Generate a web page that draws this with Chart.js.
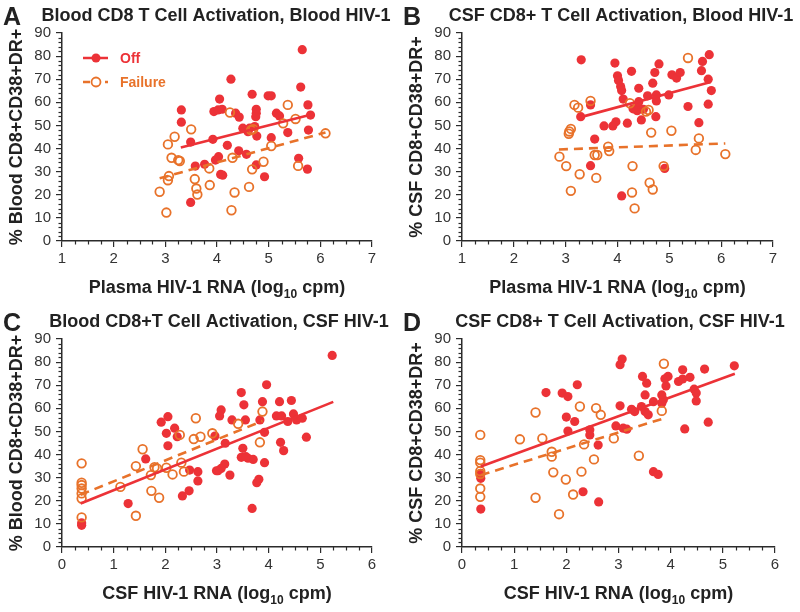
<!DOCTYPE html>
<html><head><meta charset="utf-8">
<script src="https://cdn.jsdelivr.net/npm/chart.js@4/dist/chart.umd.min.js"></script>
<style>
html,body{margin:0;padding:0;background:#fff;}
#wrap{position:relative;width:800px;height:612px;}
.panel{position:absolute;width:400px;height:306px;}
canvas{display:block;}
</style></head><body>
<div id="wrap">
<div class="panel" style="left:0;top:0"><canvas id="cA" width="400" height="306"></canvas></div>
<div class="panel" style="left:400px;top:0"><canvas id="cB" width="400" height="306"></canvas></div>
<div class="panel" style="left:0;top:306px"><canvas id="cC" width="400" height="306"></canvas></div>
<div class="panel" style="left:400px;top:306px"><canvas id="cD" width="400" height="306"></canvas></div>
</div>
<script>
// ---------- DATA ----------
const seriesNames = ['Off', 'Failure'];
const yTicksMax = 90;

// Panel A: Blood CD8 activation vs plasma HIV-1
const aOff = [[5.65,82.8],[4.27,70],[5.62,66.6],[4.68,63.5],[4.99,62.8],[5.05,62.8],[4.05,61.4],[5.76,58.9],[3.31,56.7],[3.94,56],[4.02,56.7],[4.1,57],[4.36,55.3],[4.43,53.6],[4.76,57],[4.76,55.3],[4.75,53.8],[5.15,55.3],[5.21,54.1],[5.81,54.5],[3.31,51.4],[4.5,48.8],[4.63,48.8],[4.6,47.3],[4.73,49.5],[4.77,45.4],[5.37,46.9],[5.77,48],[5.05,44.7],[3.49,42.8],[3.92,44],[4.2,41.4],[4.42,39],[4.57,37.5],[4.03,36.5],[3.97,35],[3.76,33.2],[3.58,32.4],[4.76,32.9],[4.07,28.8],[4.11,28.5],[4.92,27.8],[5.58,35.8],[5.75,31.1],[3.49,16.7]];
const aFail = [[5.37,58.9],[4.25,55.6],[5.52,52.8],[5.28,50.9],[4.66,48],[4.7,48.4],[3.5,48.3],[3.18,45.1],[3.05,41.8],[6.1,46.6],[5.05,41.1],[3.12,36],[3.28,34.6],[3.25,35],[4.3,36],[4.9,34.3],[3.85,31.4],[4.68,31],[3.07,28.1],[3.05,26.3],[3.57,26.8],[3.6,22.7],[3.62,20.1],[3.86,24.2],[4.62,23.4],[4.34,21],[2.89,21.3],[3.02,12.3],[4.28,13.3],[5.57,32.5]];
const aFitOff = [[3.3,40.5],[5.85,54.8]];
const aFitFail = [[2.89,27.1],[6.1,47]];

// Panel B: CSF CD8 activation vs plasma HIV-1
const bOff = [[3.3,78.4],[3.95,77],[4.27,73.4],[4.0,71.5],[4.02,69.4],[4.06,66.8],[4.08,65.1],[4.11,61.4],[4.41,66.1],[4.8,76.6],[4.72,72.9],[4.68,68.3],[4.58,62.8],[4.75,63.2],[4.75,60.6],[4.99,63.2],[5.05,71.9],[5.14,70.5],[5.21,72.9],[5.64,77.7],[5.77,80.6],[5.62,73.7],[5.75,70],[5.81,65.1],[5.75,59.2],[5.36,58.2],[5.57,51.2],[4.41,60.3],[4.4,58.2],[4.38,56.4],[4.5,57],[4.3,57.2],[4.74,53.8],[4.46,52.4],[4.19,51],[3.97,51.6],[3.91,49.8],[3.74,49.8],[3.48,58.9],[3.29,53.8],[3.56,44.1],[3.48,32.6],[4.91,31.4],[4.08,19.5]];
const bFail = [[5.36,79.2],[3.48,60.6],[3.17,58.9],[3.24,57.7],[3.1,48.5],[3.07,47.4],[3.06,46.4],[4.65,46.9],[5.04,47.7],[5.57,44.4],[5.51,39.4],[3.82,40.8],[3.84,38.9],[3.56,37.2],[3.61,37.2],[2.88,36.5],[3.01,32.4],[3.27,28.9],[3.59,27.3],[4.29,32.4],[4.89,32.4],[4.62,25.2],[4.68,22.3],[4.28,21],[3.1,21.7],[4.33,14.1],[6.08,37.6],[4.24,59.6],[4.6,56.7],[4.55,56]];
const bFitOff = [[3.29,53.6],[5.8,68.8]];
const bFitFail = [[2.87,39.6],[6.08,42.2]];

// Panel C: Blood CD8 activation vs CSF HIV-1
const cOff = [[2.05,56.4],[1.92,54],[2.18,51.4],[2.23,47.7],[2.02,49.2],[2.05,43.8],[1.62,38.1],[2.47,33.3],[2.63,32.6],[2.63,28.6],[2.46,24.3],[2.33,22.1],[1.28,18.8],[0.38,10.4],[0.38,9.4],[2.99,33],[5.23,82.9],[3.96,70.2],[3.47,66.8],[3.52,61.5],[3.88,62.9],[4.21,62.9],[4.44,63.4],[3.08,59.3],[3.05,56.7],[3.29,55],[3.55,55],[4.15,56.7],[4.25,56.7],[4.48,57.6],[4.54,55],[4.65,55.7],[4.37,54.3],[3.83,55],[3.92,49.6],[4.73,47.5],[4.23,45.3],[4.29,41.7],[3.16,44.9],[3.5,42.7],[3.47,38.8],[3.6,38.4],[3.7,37.9],[3.56,39.1],[3.92,36.5],[3.15,35.9],[3.08,34],[3.02,33],[3.25,31.1],[3.81,29.3],[3.77,27.8],[3.68,16.7],[2.96,48]];
const cFail = [[2.59,55.7],[2.55,46.7],[2.68,47.7],[2.28,48.5],[2.91,49.2],[1.56,42.3],[1.43,35],[1.79,34.5],[1.84,34],[1.72,31.1],[2.14,31.4],[2.31,36.5],[2.36,32.6],[2.02,34.3],[1.13,26],[1.73,24.3],[1.88,21.3],[1.43,13.5],[0.38,36.2],[0.38,27.8],[0.38,26.8],[0.38,25.3],[0.38,23.2],[0.38,21],[0.38,12.8],[3.88,58.6],[3.83,45.3],[3.41,53.3]];
const cFitOff = [[0.36,18.8],[5.25,62.8]];
const cFitFail = [[0.36,22.6],[3.88,54.5]];

// Panel D: CSF CD8 activation vs CSF HIV-1
const dOff = [[1.61,66.8],[1.92,66.6],[2.03,65.1],[2.21,70.2],[2.0,56.2],[2.16,54.3],[2.03,50.2],[2.45,50.7],[2.45,48.5],[2.61,44.1],[2.32,23.9],[2.62,19.5],[0.36,31.9],[0.36,29.7],[0.36,16.4],[3.07,81.3],[3.03,78.9],[3.46,73.8],[3.54,70.9],[3.51,65.8],[3.03,61.1],[3.25,59.6],[3.31,58.6],[3.44,60.8],[3.51,58.6],[3.57,57.2],[3.67,62.9],[3.83,65.8],[3.86,63.7],[3.83,62.2],[3.91,69.7],[3.95,73.8],[3.89,72.8],[4.23,76.7],[4.15,71.6],[4.23,72.7],[4.37,73.4],[4.45,68.3],[4.49,66.6],[4.49,63.2],[4.65,77],[5.22,78.4],[4.27,51.1],[4.72,54],[3.67,32.6],[3.76,31.4],[2.95,52.4],[3.09,51.4],[3.16,51]];
const dFail = [[1.41,58.2],[2.26,60.8],[2.57,60.1],[2.66,57.2],[1.11,46.6],[1.54,47],[2.34,44.4],[0.35,48.5],[1.72,41.2],[1.72,39.1],[2.53,37.9],[0.35,37.6],[0.35,36.5],[0.35,32.8],[0.35,31.6],[1.75,32.3],[2.29,32.6],[1.99,29.2],[0.35,25.3],[0.35,21.7],[1.41,21.3],[2.13,22.7],[1.86,14.2],[3.87,79.3],[3.83,58.9],[2.91,47],[3.39,39.5]];
const dFitOff = [[0.36,34.8],[5.23,75]];
const dFitFail = [[0.36,31.1],[3.89,55.8]];

// Text
const panelLetters = ['A','B','C','D'];
const panelTitles = ['Blood CD8 T Cell Activation, Blood HIV-1','CSF CD8+ T Cell Activation, Blood HIV-1','Blood CD8+T Cell Activation, CSF HIV-1','CSF CD8+ T Cell Activation, CSF HIV-1'];
const yTitles = ['% Blood CD8+CD38+DR+','% CSF CD8+CD38+DR+','% Blood CD8+CD38+DR+','% CSF CD8+CD38+DR+'];
const xTitlePre = ['Plasma HIV-1 RNA (log','Plasma HIV-1 RNA (log','CSF HIV-1 RNA (log','CSF HIV-1 RNA (log'];
const xTitleSub = '10';
const xTitlePost = ' cpm)';

// ---------- STYLE ----------
const RED = '#EC3237';
const ORANGE = '#E8722A';
const AX = '#2b2b2b';
const FAM = '"Liberation Sans", Arial, Helvetica, sans-serif';

const toPts = arr => arr.map(p => ({x: p[0], y: p[1]}));

const decor = {
  id: 'decor',
  afterDraw(chart, args, o) {
    const ctx = chart.ctx;
    const xs = chart.scales.x, ys = chart.scales.y;
    const ca = chart.chartArea;
    ctx.save();
    // minor ticks
    ctx.strokeStyle = AX; ctx.lineWidth = 1.2;
    const nx = Math.round((xs.max - xs.min) / 0.25);
    for (let i = 0; i <= nx; i++) {
      if (i % 4 === 0) continue;
      const p = Math.round(xs.getPixelForValue(xs.min + i * 0.25)) + 0.5;
      ctx.beginPath(); ctx.moveTo(p, xs.top); ctx.lineTo(p, xs.top + 3.5); ctx.stroke();
    }
    const ny = Math.round((ys.max - ys.min) / 2);
    for (let i = 0; i <= ny; i++) {
      if (i % 5 === 0) continue;
      const p = Math.round(ys.getPixelForValue(ys.min + i * 2)) + 0.5;
      ctx.beginPath(); ctx.moveTo(ys.right, p); ctx.lineTo(ys.right - 3.5, p); ctx.stroke();
    }
    // letter + title
    ctx.fillStyle = '#222';
    ctx.textBaseline = 'alphabetic';
    ctx.textAlign = 'left';
    ctx.font = 'bold 25px ' + FAM;
    ctx.fillText(o.letter, 3, 25);
    ctx.font = 'bold 18px ' + FAM;
    ctx.textAlign = 'center';
    ctx.fillText(o.title, o.titleX, 21);
    // x title with subscript
    const cx = (ca.left + ca.right) / 2;
    ctx.textAlign = 'left';
    ctx.font = 'bold 18px ' + FAM;
    const w1 = ctx.measureText(o.xPre).width;
    const w3 = ctx.measureText(xTitlePost).width;
    ctx.font = 'bold 12px ' + FAM;
    const w2 = ctx.measureText(xTitleSub).width;
    let x0 = cx - (w1 + w2 + w3) / 2;
    const by = 293;
    ctx.font = 'bold 18px ' + FAM;
    ctx.fillText(o.xPre, x0, by);
    ctx.font = 'bold 12px ' + FAM;
    ctx.fillText(xTitleSub, x0 + w1, by + 5);
    ctx.font = 'bold 18px ' + FAM;
    ctx.fillText(xTitlePost, x0 + w1 + w2, by);
    // y title
    ctx.save();
    ctx.translate(22, (ca.top + ca.bottom) / 2);
    ctx.rotate(-Math.PI / 2);
    ctx.textAlign = 'center';
    ctx.font = 'bold 18px ' + FAM;
    ctx.fillText(o.yTitle, 0, 0);
    ctx.restore();
    // legend
    if (o.legend) {
      const rows = [{y: 58, c: RED, dash: [], fill: true, t: seriesNames[0]},
                    {y: 82, c: ORANGE, dash: [7, 4], fill: false, t: seriesNames[1]}];
      rows.forEach(r => {
        ctx.strokeStyle = r.c; ctx.lineWidth = 2.5; ctx.setLineDash(r.dash);
        ctx.beginPath(); ctx.moveTo(83, r.y); ctx.lineTo(108, r.y); ctx.stroke();
        ctx.setLineDash([]);
        ctx.beginPath(); ctx.arc(96, r.y, 4.5, 0, Math.PI * 2);
        if (r.fill) { ctx.fillStyle = r.c; ctx.fill(); }
        else { ctx.fillStyle = '#fff'; ctx.fill(); ctx.lineWidth = 1.8; ctx.stroke(); }
        ctx.fillStyle = r.c; ctx.font = 'bold 14px ' + FAM; ctx.textAlign = 'left';
        ctx.textBaseline = 'middle';
        ctx.fillText(r.t, 120, r.y + 1);
        ctx.textBaseline = 'alphabetic';
      });
    }
    ctx.restore();
  }
};

function makeChart(id, idx, off, fail, fitOff, fitFail, xmin, xmax, padRight, titleX, legend) {
  return new Chart(document.getElementById(id), {
    type: 'scatter',
    data: {
      datasets: [
        {type: 'line', label: 'Off fit', data: toPts(fitOff), borderColor: RED, borderWidth: 2.6, pointRadius: 0, fill: false, order: 0},
        {type: 'line', label: 'Failure fit', data: toPts(fitFail), borderColor: ORANGE, borderWidth: 2.6, borderDash: [9, 6], pointRadius: 0, fill: false, order: 0},
        {label: seriesNames[1], data: toPts(fail), pointRadius: 4.3, pointBorderWidth: 1.8, borderColor: ORANGE, backgroundColor: 'rgba(255,255,255,0)', pointHoverRadius: 4.3, order: 1},
        {label: seriesNames[0], data: toPts(off), pointRadius: 4.6, pointBorderWidth: 0, borderColor: RED, backgroundColor: RED, pointHoverRadius: 4.6, order: 2}
      ]
    },
    options: {
      responsive: false, animation: false,
      layout: {padding: {left: 0, top: 33, right: padRight, bottom: 0}},
      plugins: {legend: {display: false}, tooltip: {enabled: false},
        decor: {letter: panelLetters[idx], title: panelTitles[idx], titleX: titleX, yTitle: yTitles[idx], xPre: xTitlePre[idx], legend: legend}},
      scales: {
        x: {type: 'linear', min: xmin, max: xmax,
          ticks: {stepSize: 1, color: '#333', font: {size: 15, family: FAM}, padding: 3, maxRotation: 0, autoSkip: false},
          grid: {drawOnChartArea: false, drawTicks: true, tickLength: 6, color: AX, lineWidth: 1.2},
          border: {display: true, color: AX, width: 1.5},
          afterFit(s) { s.height = 65; }},
        y: {type: 'linear', min: 0, max: yTicksMax,
          ticks: {stepSize: 10, color: '#333', font: {size: 15, family: FAM}, padding: 5},
          grid: {drawOnChartArea: false, drawTicks: true, tickLength: 6, color: AX, lineWidth: 1.2},
          border: {display: true, color: AX, width: 1.5},
          afterFit(s) { s.width = 62; }}
      }
    },
    plugins: [decor]
  });
}

makeChart('cA', 0, aOff, aFail, aFitOff, aFitFail, 1, 7, 28, 216, true);
makeChart('cB', 1, bOff, bFail, bFitOff, bFitFail, 1, 7, 27, 221, false);
makeChart('cC', 2, cOff, cFail, cFitOff, cFitFail, 0, 6, 28, 219, false);
makeChart('cD', 3, dOff, dFail, dFitOff, dFitFail, 0, 6, 25, 220, false);
</script>
</body></html>
